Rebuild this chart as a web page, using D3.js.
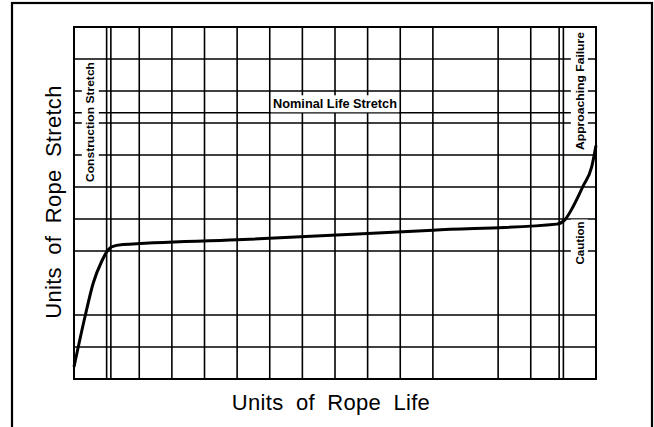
<!DOCTYPE html>
<html>
<head>
<meta charset="utf-8">
<script src="https://cdn.jsdelivr.net/npm/d3@7"></script>
<style>
  body { margin: 0; background: #fff; }
  .grid line { stroke: #000; stroke-width: 1.6; }
  .zone-label { font-family: "Liberation Sans", Arial, sans-serif; font-weight: bold; fill: #000; }
  .axis-title { font-family: "Liberation Sans", Arial, sans-serif; font-size: 22px; fill: #000; word-spacing: 6px; letter-spacing: 0.3px; }
</style>
</head>
<body>
<svg id="chart"></svg>
<script>
// grid positions (units), note a couple of lines are missing on the original sheet
const xGridTicks = [0, 1, 2, 3, 4, 5, 6, 7, 8, 9, 10, 11, 13, 14, 15, 16];
const yGridTicks = [0, 1, 2, 4, 5, 6, 7, 8, 9, 10, 11];

// boundary markers between the zones
const xZoneLines = [1.13, 14.87];
const yZoneLines = [8.32];

// rope stretch curve (units of life, units of stretch)
const lifeValues = [0, 0.34, 0.59, 0.85, 1.05, 1.15, 1.5, 5.0, 11.0, 14.8, 15.05, 15.3, 15.6, 15.87, 16.0];
const stretchValues = [0.38, 1.96, 3.0, 3.68, 4.04, 4.13, 4.2, 4.35, 4.65, 4.84, 4.98, 5.39, 6.02, 6.64, 7.3];

const zoneLabels = ["Construction Stretch", "Nominal Life Stretch", "Approaching Failure", "Caution"];
const axisTitles = ["Units of Rope Life", "Units of Rope Stretch"];

const config = {
  width: 654,
  height: 427,
  margin: { top: 27, right: 58, bottom: 48, left: 74 }
};

const width = config.width - config.margin.left - config.margin.right;
const height = config.height - config.margin.top - config.margin.bottom;

const svg = d3.select("#chart")
  .attr("width", config.width)
  .attr("height", config.height);

// outer frame
svg.append("rect")
  .attr("x", 12).attr("y", 3)
  .attr("width", 640).attr("height", 440)
  .attr("fill", "none")
  .attr("stroke", "#000")
  .attr("stroke-width", 2.2);

const chart = svg.append("g")
  .attr("transform", `translate(${config.margin.left},${config.margin.top})`);

const xScale = d3.scaleLinear().domain([0, 16]).range([0, width]);
const yScale = d3.scaleLinear().domain([0, 11]).range([height, 0]);

// grid lines
const grid = chart.append("g").attr("class", "grid");

grid.selectAll(".vline")
  .data(xGridTicks.concat(xZoneLines))
  .join("line")
  .attr("class", "vline")
  .attr("x1", d => xScale(d)).attr("x2", d => xScale(d))
  .attr("y1", 0).attr("y2", height);

grid.selectAll(".hline")
  .data(yGridTicks.concat(yZoneLines))
  .join("line")
  .attr("class", "hline")
  .attr("x1", 0).attr("x2", width)
  .attr("y1", d => yScale(d)).attr("y2", d => yScale(d));

// zone labels sit on white boxes that cut the grid
const labels = [
  { text: zoneLabels[0], x: 0.5, y: 8.03, rotate: true, len: 120, size: 11.5 },
  { text: zoneLabels[1], x: 8.0, y: 8.6, rotate: false, len: 124, size: 12 },
  { text: zoneLabels[2], x: 15.49, y: 9.0, rotate: true, len: 118, size: 11.5 },
  { text: zoneLabels[3], x: 15.49, y: 4.25, rotate: true, len: 43, size: 11.5 }
];

labels.forEach(l => {
  const cx = xScale(l.x), cy = yScale(l.y);
  const g = chart.append("g")
    .attr("transform", `translate(${cx},${cy})` + (l.rotate ? " rotate(-90)" : ""));
  g.append("rect")
    .attr("x", -l.len / 2 - 2).attr("y", -8.5)
    .attr("width", l.len + 4).attr("height", 17)
    .attr("fill", "#fff");
  g.append("text")
    .attr("class", "zone-label")
    .attr("text-anchor", "middle")
    .attr("dy", "0.36em")
    .attr("font-size", l.size)
    .attr("textLength", l.len)
    .attr("lengthAdjust", "spacingAndGlyphs")
    .text(l.text);
});

// plot border
chart.append("rect")
  .attr("width", width).attr("height", height)
  .attr("fill", "none")
  .attr("stroke", "#000")
  .attr("stroke-width", 2);

// stretch curve
const curveData = lifeValues.map((v, i) => ({ life: v, stretch: stretchValues[i] }));
const line = d3.line()
  .x(d => xScale(d.life))
  .y(d => yScale(d.stretch))
  .curve(d3.curveMonotoneX);

chart.append("path")
  .datum(curveData)
  .attr("d", line)
  .attr("fill", "none")
  .attr("stroke", "#000")
  .attr("stroke-width", 3)
  .attr("stroke-linejoin", "round");

// axis titles
svg.append("text")
  .attr("class", "axis-title")
  .attr("x", 331)
  .attr("y", 410)
  .attr("text-anchor", "middle")
  .text(axisTitles[0]);

svg.append("text")
  .attr("class", "axis-title")
  .attr("transform", `translate(61,202) rotate(-90)`)
  .attr("text-anchor", "middle")
  .text(axisTitles[1]);
</script>
</body>
</html>
